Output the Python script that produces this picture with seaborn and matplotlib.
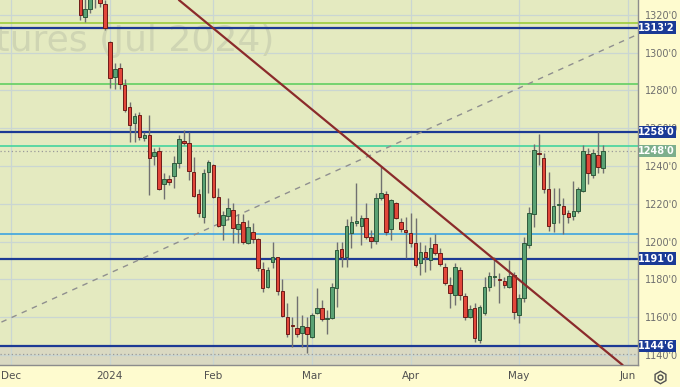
import numpy as np
import pandas as pd
import matplotlib
matplotlib.use('Agg')
import matplotlib.pyplot as plt
from matplotlib.patches import Rectangle
from matplotlib.lines import Line2D
import seaborn as sns

# daily candles, Soybean futures Jul 2024, from Dec 21 2023 to May 24 2024
opens = [1334, 1318.6, 1322.9, 1336, 1331, 1325.7, 1305.4, 1286.9, 1291.6, 1282.8,
         1271.0, 1262.9, 1266.9, 1254.6, 1256.4, 1245.4, 1247.9, 1230.3, 1232.9, 1234.8,
         1241.4, 1253.4, 1252.0, 1237.0, 1225.2, 1213.1, 1237.0, 1240.5, 1223.4, 1208.8,
         1213.5, 1216.6, 1206.4, 1210.2, 1199.1, 1205.2, 1201.2, 1185.3, 1175.8, 1189.3,
         1191.6, 1173.8, 1160.2, 1155.5, 1154.1, 1151.7, 1155.0, 1149.7, 1162.0, 1165.0,
         1158.9, 1159.4, 1175.3, 1195.9, 1191.6, 1204.4, 1210.0, 1208.2, 1212.3, 1202.2,
         1200.3, 1223.2, 1225.2, 1206.5, 1220.2, 1210.2, 1205.4, 1204.7, 1199.4, 1188.5,
         1194.6, 1190.2, 1198.7, 1194.1, 1186.4, 1177.0, 1171.7, 1185.0, 1171.2, 1160.2,
         1164.7, 1148.0, 1162.3, 1176.1, 1181.2, 1180.1, 1179.2, 1175.8, 1182.3, 1161.1,
         1170.0, 1198.2, 1214.6, 1247.0, 1244.0, 1227.6, 1210.0, 1219.3, 1218.8, 1215.0,
         1213.5, 1216.3, 1227.0, 1246.3, 1235.2, 1245.8, 1238.8]
highs = [1338, 1329, 1334, 1340, 1334, 1328, 1306.3, 1294.6, 1294.3, 1285.8,
         1274.0, 1268.2, 1268.7, 1258, 1267.0, 1249.3, 1250.2, 1236.4, 1235.2, 1245.3,
         1256.4, 1259.0, 1258.1, 1244.6, 1227.6, 1238.2, 1243.0, 1241.0, 1228.2, 1216.0,
         1222.9, 1220.6, 1214.6, 1214.6, 1211.4, 1210.0, 1201.7, 1189.3, 1186.4, 1199.9,
         1192.0, 1180.2, 1167.3, 1160.2, 1171.2, 1160.9, 1159.9, 1162.0, 1175.3, 1169.0,
         1163.8, 1178.0, 1199.9, 1199.9, 1211.8, 1213.5, 1230.8, 1214.1, 1220.2, 1206.1,
         1225.5, 1240.0, 1226.5, 1222.4, 1221.0, 1212.3, 1213.1, 1215.0, 1212.3, 1199.9,
         1198.2, 1202.2, 1204.0, 1196.4, 1188.5, 1181.4, 1188.8, 1186.7, 1172.6, 1166.4,
         1167.3, 1166.4, 1181.4, 1184.1, 1192.0, 1183.2, 1181.4, 1190.3, 1184.1, 1172.0,
         1202.2, 1218.1, 1251.6, 1257.0, 1246.7, 1236.9, 1228.2, 1228.5, 1222.9, 1216.5,
         1232.0, 1229.0, 1251.1, 1249.3, 1249.0, 1258.1, 1251.1]
lows = [1317.2, 1316.3, 1320.7, 1323.5, 1324.2, 1311.9, 1281.1, 1280.5, 1280.5, 1268.7,
        1252.8, 1252.8, 1253.7, 1253.0, 1224.6, 1240.5, 1227.3, 1222.4, 1229.9, 1228.2,
        1239.0, 1251.0, 1232.5, 1223.7, 1212.8, 1209.6, 1225.5, 1222.9, 1207.5, 1200.8,
        1211.4, 1199.4, 1199.1, 1198.7, 1198.7, 1199.1, 1184.6, 1173.5, 1175.3, 1185.8,
        1171.7, 1160.2, 1149.4, 1144.0, 1149.7, 1144.3, 1140.9, 1148.8, 1161.7, 1158.1,
        1151.1, 1158.9, 1165.2, 1186.7, 1186.4, 1196.4, 1208.0, 1198.1, 1201.3, 1196.4,
        1198.7, 1222.0, 1203.5, 1200.8, 1211.8, 1205.2, 1191.1, 1196.9, 1186.7, 1182.3,
        1184.0, 1185.0, 1193.0, 1187.1, 1177.0, 1164.7, 1166.4, 1169.0, 1158.5, 1159.5,
        1147.0, 1146.2, 1161.1, 1174.0, 1176.5, 1167.3, 1175.3, 1175.3, 1158.9, 1156.7,
        1168.0, 1196.4, 1207.5, 1240.5, 1225.5, 1205.8, 1205.2, 1210.0, 1203.9, 1209.6,
        1211.4, 1215.3, 1226.4, 1230.4, 1233.4, 1236.1, 1236.4]
closes = [1319.8, 1322.9, 1331, 1331, 1326.4, 1312.8, 1286.4, 1291.1, 1283.2, 1269.6,
          1261.6, 1266.4, 1255.1, 1256.4, 1244.0, 1247.2, 1227.8, 1232.9, 1231.7, 1241.4,
          1254.3, 1252.3, 1237.5, 1224.1, 1214.9, 1236.1, 1242.0, 1223.4, 1208.3, 1214.0,
          1217.6, 1207.0, 1209.1, 1199.9, 1207.5, 1201.2, 1185.8, 1175.3, 1184.9, 1191.6,
          1174.0, 1160.6, 1151.1, 1155.3, 1151.1, 1155.4, 1151.1, 1161.2, 1165.0, 1158.9,
          1159.3, 1175.8, 1195.5, 1191.6, 1208.2, 1210.2, 1210.2, 1212.3, 1202.2, 1200.3,
          1223.2, 1225.8, 1205.2, 1222.0, 1212.3, 1206.5, 1205.2, 1199.4, 1187.6, 1194.6,
          1192.0, 1196.4, 1194.1, 1188.0, 1178.0, 1172.6, 1186.4, 1171.7, 1160.2, 1164.1,
          1148.8, 1165.2, 1176.1, 1181.8, 1181.6, 1179.5, 1177.0, 1181.8, 1162.9, 1170.0,
          1199.1, 1215.0, 1248.4, 1246.3, 1227.6, 1208.3, 1218.8, 1219.6, 1214.6, 1213.2,
          1216.3, 1227.8, 1248.1, 1236.1, 1246.7, 1239.3, 1248.0]

first_day = '2023-12-21'
holidays = ['2023-12-25', '2024-01-01', '2024-01-15', '2024-02-19', '2024-03-29', '2024-05-27']

# horizontal levels drawn on the chart
level_boxes = [1313.25, 1258.0, 1191.0, 1144.75]
level_box_text = ["1313'2", "1258'0", "1191'0", "1144'6"]
other_levels = [1315.8, 1283.3, 1250.4, 1203.8]
other_colors = ['#9ccc3c', '#62cf62', '#44d49e', '#3ca4e0']
dotted_levels = [1248.0, 1140.3]
last_text = "1248'0"

# trend lines, (date, price) anchors
red_trend_dates = ['2024-01-23', '2024-05-31']
red_trend_prices = [1327.8, 1134.7]
grey_trend_dates = ['2023-11-29', '2024-06-07']
grey_trend_prices = [1157.4, 1311.9]

yticks = list(range(1140, 1321, 20))
month_labels = ['Dec', '2024', 'Feb', 'Mar', 'Apr', 'May', 'Jun']

# trading calendar -> x position (weekends/holidays squeezed out)
cal = pd.bdate_range('2023-11-27', '2024-06-14', freq='C', holidays=holidays)
pos_of = {d: i for i, d in enumerate(cal)}
start = pos_of[pd.Timestamp(first_day)]
x = np.arange(start, start + len(opens))
month_pos = [pos_of[cal[cal >= pd.Timestamp(m)][0]] for m in
             ['2023-12-01', '2024-01-01', '2024-02-01', '2024-03-01', '2024-04-01', '2024-05-01', '2024-06-01']]

def to_pos(dates):
    out = []
    for d in dates:
        d = pd.Timestamp(d)
        out.append(pos_of[cal[cal >= d][0]])
    return out

sns.set_style('white')
plt.rcParams['font.family'] = ['DejaVu Sans']

fig = plt.figure(figsize=(6.8, 3.87), dpi=100, facecolor='#fefbcf')
ax = fig.add_axes([0, 22 / 387, 638 / 680, 365 / 387])
ax.set_facecolor('#e4eac0')

px = 4.93  # pixels per trading day
x0 = start - 80.3 / px
ax.set_xlim(x0, x0 + 638 / px)
ax.set_ylim(1134.7, 1327.8)

ax.grid(True, color='#cad6d2', lw=0.9)
ax.set_axisbelow(True)
ax.axhspan(1100, 1144.75, color='#dad9c2', zorder=0.3)

# faded contract name, cut by the left edge as in the terminal
ax.text(0.43, 0.888, 'Soybean Futures (Jul 2024)', transform=ax.transAxes, ha='right', va='center',
        fontsize=26, color='#cfd5b3', zorder=0.6, clip_on=True)

for lv, c in zip(other_levels, other_colors):
    ax.axhline(lv, color=c, lw=1.2, zorder=1)
for lv in dotted_levels:
    ax.axhline(lv, color='#9a9a9a', lw=0.9, ls=(0, (1, 2)), zorder=1)
for lv in level_boxes:
    ax.axhline(lv, color='#1c3a94', lw=1.6, zorder=1.2)

df = pd.DataFrame({'x': x, 'open': opens, 'high': highs, 'low': lows, 'close': closes})
up = df['close'] >= df['open']

ax.vlines(df['x'], df['low'], df['high'], color='#707070', lw=1, zorder=2)
for is_up, fc, ec in [(True, '#5aa274', '#2f5a3c'), (False, '#e2473a', '#6e1c18')]:
    d = df[up == is_up]
    h = (d['close'] - d['open']).abs().clip(lower=0.7)
    ax.bar(d['x'], h, bottom=d[['open', 'close']].min(axis=1), width=0.72,
           color=fc, edgecolor=ec, linewidth=0.7, zorder=3)

tl = pd.DataFrame({'x': to_pos(red_trend_dates), 'y': red_trend_prices})
sns.lineplot(data=tl, x='x', y='y', ax=ax, color='#8b2b2b', lw=1.6, zorder=4)
gl = pd.DataFrame({'x': to_pos(grey_trend_dates), 'y': grey_trend_prices})
sns.lineplot(data=gl, x='x', y='y', ax=ax, color='#8f8f8f', lw=1.0, linestyle=(0, (4, 4)), zorder=1.5)
ax.set_xlabel('')
ax.set_ylabel('')

ax.set_yticks(yticks)
ax.set_yticklabels([f"{v}'0" for v in yticks])
ax.yaxis.tick_right()
ax.tick_params(axis='y', length=0, pad=5, labelsize=7, labelcolor='#6e6e6e')
ax.set_xticks(month_pos)
ax.set_xticklabels(month_labels)
ax.tick_params(axis='x', length=0, pad=4.5, labelsize=7.5, labelcolor='#505050')

for s in ['top', 'left']:
    ax.spines[s].set_visible(False)
for s in ['right', 'bottom']:
    ax.spines[s].set_color('#8c8c8c')
    ax.spines[s].set_linewidth(1)

# price boxes on the right axis
bh = 12.6 / 1.89
tr = ax.get_yaxis_transform()
for lv, t in zip(level_boxes, level_box_text):
    ax.add_patch(Rectangle((1.001, lv - bh / 2), 37 / 638, bh, transform=tr, clip_on=False,
                           facecolor='#1a3a96', edgecolor='none', zorder=6))
    ax.text(1.0 + 18.5 / 638, lv, t, transform=tr, ha='center', va='center', fontsize=7,
            fontweight='bold', color='white', zorder=7, clip_on=False)
ax.add_patch(Rectangle((1.001, closes[-1] - bh / 2), 37 / 638, bh, transform=tr, clip_on=False,
                       facecolor='#7daf8c', edgecolor='none', zorder=6))
ax.text(1.0 + 18.5 / 638, closes[-1], last_text, transform=tr, ha='center', va='center', fontsize=7,
        fontweight='bold', color='white', zorder=7, clip_on=False)

# settings icon
fig.add_artist(Line2D([660 / 680], [1 - 377 / 387], marker='h', markersize=9, mfc='none',
                      mec='#505050', mew=1, transform=fig.transFigure))
fig.add_artist(Line2D([660 / 680], [1 - 377 / 387], marker='o', markersize=3.5, mfc='none',
                      mec='#505050', mew=1, transform=fig.transFigure))

fig.savefig('out.png', dpi=100, facecolor=fig.get_facecolor())
